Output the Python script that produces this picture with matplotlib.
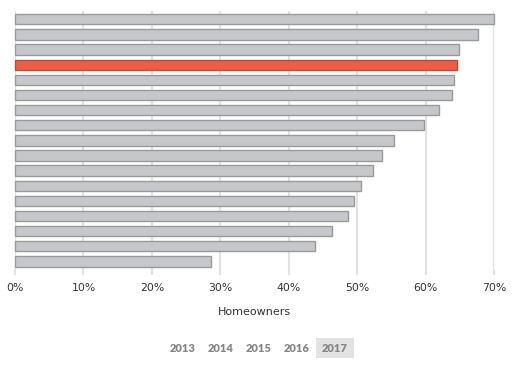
import matplotlib
matplotlib.use("Agg")
import matplotlib.pyplot as plt
from matplotlib.patches import Rectangle

# share of homeowners, top bar first; the highlighted bar is index 3
values = [70.0, 67.7, 64.9, 64.6, 64.2, 63.9, 62.0, 59.8, 55.4,
          53.6, 52.3, 50.6, 49.5, 48.7, 46.3, 43.8, 28.6]
highlight = 3
xticks = [0, 10, 20, 30, 40, 50, 60, 70]
xlabel = "Homeowners"
years = ["2013", "2014", "2015", "2016", "2017"]
active_year = "2017"

grey = "#c6c7ca"
grey_edge = "#9a9a9c"
red = "#ec5f46"
red_edge = "#c24a36"
grid = "#e2e2e2"

fig = plt.figure(figsize=(5.13, 3.66), dpi=100)
ax = fig.add_axes([15 / 513, 1 - 269 / 366, 479 / 513, 258 / 366])

y = list(range(len(values)))
colors = [red if i == highlight else grey for i in y]
edges = [red_edge if i == highlight else grey_edge for i in y]
bars = ax.barh(y, values, height=0.68, color=colors, edgecolor=edges,
               linewidth=1.0, zorder=3)
for b in bars:
    b.set_clip_on(False)

ax.set_ylim(len(values) - 0.5, -0.55)
ax.set_xlim(0, 70)
ax.set_xticks(xticks)
ax.set_xticklabels([f"{t}%" for t in xticks], fontsize=7.8,
                   color="#333333", family="DejaVu Sans")
ax.set_yticks([])
ax.grid(axis="x", color=grid, linewidth=1.5, zorder=0)
ax.tick_params(axis="x", length=4, width=1.5, color=grid, pad=6)
for s in ax.spines.values():
    s.set_visible(False)
ax.set_xlabel(xlabel, fontsize=8, color="#333333", labelpad=10,
              family="DejaVu Sans")

# year selector under the chart
xs = [183, 221, 259, 297, 335]
for yr, xc in zip(years, xs):
    if yr == active_year:
        fig.patches.append(Rectangle(((xc - 19) / 513, 1 - 358 / 366),
                                     38 / 513, 20 / 366,
                                     transform=fig.transFigure,
                                     facecolor="#e3e3e3", edgecolor="none"))
    fig.text(xc / 513, 1 - 348 / 366, yr, ha="center", va="center",
             fontsize=8, fontweight="heavy", color="#858585",
             family="Lato")

fig.savefig("out.png", dpi=100)
